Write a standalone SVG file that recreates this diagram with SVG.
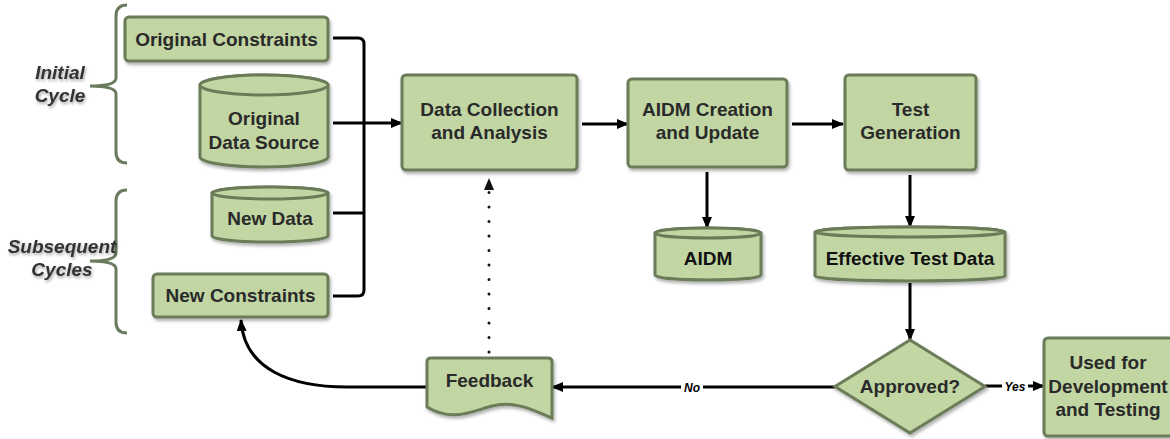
<svg xmlns="http://www.w3.org/2000/svg" width="1170" height="439" viewBox="0 0 1170 439">
<defs>
<style>
.n{fill:#c2d6a3;stroke:#6a7b58;stroke-width:3;filter:url(#sh)}
.t{font-family:"Liberation Sans",Arial,sans-serif;font-weight:bold;font-size:19px;fill:#2a2a2a;text-anchor:middle}
.tb{fill:#111}
.c{fill:none;stroke:#000;stroke-width:3}
.br{fill:none;stroke:#6b7b5e;stroke-width:3}
.lab{font-family:"Liberation Sans",Arial,sans-serif;font-weight:bold;font-style:italic;font-size:19px;fill:#333;text-anchor:middle;filter:url(#tsh)}
.el{font-family:"Liberation Sans",Arial,sans-serif;font-weight:bold;font-style:italic;font-size:12px;fill:#000;text-anchor:middle}
</style>
<filter id="sh" x="-10%" y="-10%" width="125%" height="130%">
<feDropShadow dx="1.5" dy="2.5" stdDeviation="1.5" flood-color="#000" flood-opacity="0.3"/>
</filter>
<filter id="tsh" x="-10%" y="-20%" width="130%" height="160%">
<feDropShadow dx="1" dy="2" stdDeviation="1.5" flood-color="#000" flood-opacity="0.35"/>
</filter>
<marker id="arr" viewBox="0 0 12 10" refX="11" refY="5" markerWidth="12" markerHeight="10" markerUnits="userSpaceOnUse" orient="auto">
<path d="M0,0 L12,5 L0,10 Z" fill="#000"/>
</marker>
</defs>
<rect width="1170" height="439" fill="#fff"/>

<g id="labels">
<path class="br" d="M127,5 Q116,5 116,16 V78 Q116,86 90,86 Q116,86 116,94 V152 Q116,163 127,163"/>
<text class="lab" x="60" y="79">Initial</text>
<text class="lab" x="60" y="102">Cycle</text>
<path class="br" d="M127,190 Q116,190 116,201 V253 Q116,261 90,261 Q116,261 116,269 V322 Q116,333 127,333"/>
<text class="lab" x="62" y="253">Subsequent</text>
<text class="lab" x="62" y="276">Cycles</text>
</g>

<g id="connectors">
<path class="c" d="M333,38 H358 Q364,38 364,44 V290 Q364,296 358,296 H333"/>
<path class="c" d="M333,213 H364"/>
<path class="c" d="M333,123 H402" marker-end="url(#arr)"/>
<path class="c" d="M582,124 H628" marker-end="url(#arr)"/>
<path class="c" d="M792,124 H843" marker-end="url(#arr)"/>
<path class="c" d="M707,172 V228" marker-end="url(#arr)"/>
<path class="c" d="M910,175 V227" marker-end="url(#arr)"/>
<path class="c" d="M910,283 V340" marker-end="url(#arr)"/>
<path class="c" d="M835,387 H552" marker-end="url(#arr)"/>
<rect x="681" y="380" width="22" height="14" fill="#fff"/>
<text class="el" x="692" y="391.5">No</text>
<path class="c" d="M985,386 H1044" marker-end="url(#arr)"/>
<rect x="1002" y="379" width="26" height="14" fill="#fff"/>
<text class="el" x="1015" y="390.5">Yes</text>
<path class="c" d="M427,387 H347 C292,387 244,370 241,320" stroke="#222" marker-end="url(#arr)"/>
<path d="M489,352 V190" fill="none" stroke="#111" stroke-width="3" stroke-linecap="round" stroke-dasharray="0 14.5"/>
<path d="M484,190 L489,178 L494,190 Z" fill="#111"/>
</g>

<g id="original-constraints">
<rect class="n" x="125" y="17" width="203" height="44" rx="4"/>
<text class="t" x="226.5" y="45.5">Original Constraints</text>
</g>

<g id="original-data-source">
<path class="n" d="M200,85 V157 A64,10 0 0 0 328,157 V85 A64,10 0 0 0 200,85 Z"/>
<ellipse cx="264" cy="85" rx="64" ry="10" fill="#c2d6a3" stroke="#6a7b58" stroke-width="3"/>
<text class="t" x="264" y="124.5">Original</text>
<text class="t" x="264" y="148.5">Data Source</text>
</g>

<g id="new-data">
<path class="n" d="M212,193 V236 A58,6 0 0 0 328,236 V193 A58,6 0 0 0 212,193 Z"/>
<ellipse cx="270" cy="193" rx="58" ry="6" fill="#c2d6a3" stroke="#6a7b58" stroke-width="3"/>
<text class="t" x="270" y="224.5">New Data</text>
</g>

<g id="new-constraints">
<rect class="n" x="153" y="274" width="175" height="43" rx="4"/>
<text class="t" x="240.5" y="301.5">New Constraints</text>
</g>

<g id="data-collection">
<rect class="n" x="402" y="75" width="175" height="95" rx="4"/>
<text class="t" x="489.5" y="115.5">Data Collection</text>
<text class="t" x="489.5" y="138.5">and Analysis</text>
</g>

<g id="aidm-creation">
<rect class="n" x="628" y="79" width="159" height="88" rx="4"/>
<text class="t" x="707.5" y="115.5">AIDM Creation</text>
<text class="t" x="707.5" y="138.5">and Update</text>
</g>

<g id="aidm">
<path class="n" d="M655,233 V275 A53,5 0 0 0 761,275 V233 A53,5 0 0 0 655,233 Z"/>
<ellipse cx="708" cy="233" rx="53" ry="5" fill="#c2d6a3" stroke="#6a7b58" stroke-width="3"/>
<text class="t tb" x="708" y="264.5">AIDM</text>
</g>

<g id="test-generation">
<rect class="n" x="845" y="75" width="131" height="95" rx="4"/>
<text class="t" x="910.5" y="115.5">Test</text>
<text class="t" x="910.5" y="138.5">Generation</text>
</g>

<g id="effective-test-data">
<path class="n" d="M815,232 V276 A95,5 0 0 0 1005,276 V232 A95,5 0 0 0 815,232 Z"/>
<ellipse cx="910" cy="232" rx="95" ry="5" fill="#c2d6a3" stroke="#6a7b58" stroke-width="3"/>
<text class="t tb" x="910" y="264.5">Effective Test Data</text>
</g>

<g id="approved">
<path class="n" d="M910,340 L985,386.5 L910,433 L835,386.5 Z"/>
<text class="t" x="910" y="393">Approved?</text>
</g>

<g id="feedback">
<path class="n" d="M431,358 H548 Q552,358 552,362 V418 C535,411 515,400 492,406 C470,412 452,422 427,407 V362 Q427,358 431,358 Z"/>
<text class="t" x="489.5" y="386.5">Feedback</text>
</g>

<g id="used-for">
<rect class="n" x="1044" y="338" width="132" height="98" rx="4"/>
<text class="t" x="1108" y="368.5">Used for</text>
<text class="t" x="1108" y="392.5">Development</text>
<text class="t" x="1108" y="415.5">and Testing</text>
</g>
</svg>
